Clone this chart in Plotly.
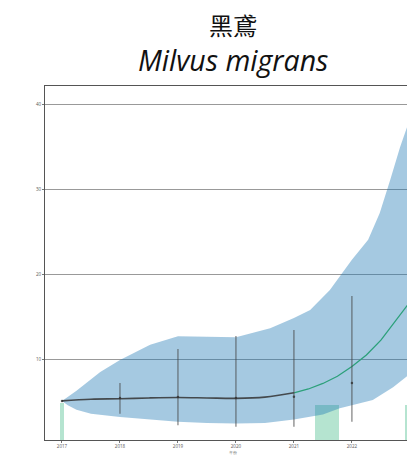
import plotly.graph_objects as go

# smoothed trend (past part and projected part)
trend_years = [2017, 2017.5, 2018, 2018.5, 2019, 2019.5, 2020, 2020.5, 2021]
trend_vals = [5.1, 5.3, 5.35, 5.45, 5.5, 5.45, 5.4, 5.55, 6.05]
proj_years = [2021, 2021.25, 2021.5, 2021.75, 2022, 2022.25, 2022.5, 2022.75, 2023]
proj_vals = [6.05, 6.5, 7.15, 8.0, 9.15, 10.5, 12.25, 14.5, 16.75]

# confidence band
band_up_years = [2017, 2017.25, 2017.5, 2017.66, 2018, 2018.52, 2019, 2019.38, 2020, 2020.59,
                 2021, 2021.28, 2021.62, 2022, 2022.28, 2022.48, 2022.66, 2022.83, 2022.95, 2023]
band_up = [5.1, 6.3, 7.6, 8.5, 9.9, 11.7, 12.7, 12.7, 12.6, 13.65,
           14.85, 15.8, 18.15, 21.7, 24.05, 27.2, 31.1, 34.95, 37.3, 38.5]
band_lo_years = [2017, 2017.1, 2017.25, 2017.5, 2018, 2018.5, 2019, 2019.5, 2020, 2020.5,
                 2021, 2021.5, 2021.79, 2022, 2022.36, 2022.71, 2022.95, 2023]
band_lo = [5.1, 4.6, 4.05, 3.6, 3.2, 2.9, 2.65, 2.5, 2.45, 2.5,
           2.9, 3.5, 4.25, 4.6, 5.2, 6.7, 8.0, 8.5]

# yearly observed index with interval
obs_years = [2017, 2018, 2019, 2020, 2021, 2022]
obs_vals = [5.1, 5.45, 5.55, 5.45, 5.6, 7.2]
obs_hi = [5.1, 7.2, 11.2, 12.75, 13.45, 17.45]
obs_lo = [5.1, 3.6, 2.25, 2.05, 2.05, 2.65]

# survey bars along the bottom
bar_x = [2017, 2021.57, 2023.0]
bar_w = [0.08, 0.41, 0.16]
bar_h = [4.8, 4.6, 4.6]

fig = go.Figure()

fig.add_trace(go.Scatter(x=band_lo_years + band_up_years[::-1], y=band_lo + band_up[::-1],
                         fill='toself', fillcolor='rgba(31,119,180,0.4)',
                         line=dict(width=0), mode='lines', hoverinfo='skip'))
fig.add_trace(go.Bar(x=bar_x, y=bar_h, width=bar_w,
                     marker=dict(color='rgba(120,205,170,0.55)', line=dict(width=0))))
fig.add_trace(go.Scatter(x=proj_years, y=proj_vals, mode='lines',
                         line=dict(color='#2ca07a', width=1.3)))
fig.add_trace(go.Scatter(x=trend_years, y=trend_vals, mode='lines',
                         line=dict(color='rgba(50,50,50,0.85)', width=1.6, shape='spline')))
fig.add_trace(go.Scatter(
    x=obs_years, y=obs_vals, mode='markers',
    marker=dict(color='rgba(50,50,50,0.8)', size=2.5),
    error_y=dict(type='data', symmetric=False,
                 array=[h - v for h, v in zip(obs_hi, obs_vals)],
                 arrayminus=[v - l for v, l in zip(obs_vals, obs_lo)],
                 color='rgba(70,70,70,0.7)', thickness=1.2, width=0)))

fig.update_layout(
    width=407, height=459,
    margin=dict(l=45, r=0, t=86, b=19),
    plot_bgcolor='white', paper_bgcolor='white',
    showlegend=False, bargap=0,
    font=dict(family='Open Sans', color='#444'),
    annotations=[
        dict(text='黑鳶', x=0.519, y=1.175, xref='paper', yref='paper', showarrow=False,
             xanchor='center', yanchor='middle',
             font=dict(size=24, family='Noto Sans CJK TC', color='#111')),
        dict(text='<i>Milvus migrans</i>', x=0.519, y=1.073, xref='paper', yref='paper',
             showarrow=False, xanchor='center', yanchor='middle',
             font=dict(size=28.5, family='Open Sans', color='#111')),
        dict(text='年份', x=0.52, y=-0.036, xref='paper', yref='paper', showarrow=False,
             xanchor='center', yanchor='middle',
             font=dict(size=4, color='#666')),
    ],
)
fig.update_xaxes(range=[2016.707, 2022.95], tickvals=[2017, 2018, 2019, 2020, 2021, 2022, 2023],
                 showgrid=False, showline=True, linecolor='#555', linewidth=1, mirror=True,
                 ticks='outside', ticklen=2, tickcolor='#777', tickfont=dict(size=4.5, color='#555'),
                 zeroline=False)
fig.update_yaxes(range=[0.5, 42.15], tickvals=[10, 20, 30, 40],
                 showgrid=True, gridcolor='#999', gridwidth=1,
                 showline=True, linecolor='#555', linewidth=1, mirror=True,
                 ticks='outside', ticklen=2, tickcolor='#777', tickfont=dict(size=4.5, color='#555'),
                 zeroline=False)

# drop the default page margin so the figure sits at the window's corner
fig.write_html("out.html", config={'displayModeBar': False},
               post_script="document.body.style.margin = '0';")
